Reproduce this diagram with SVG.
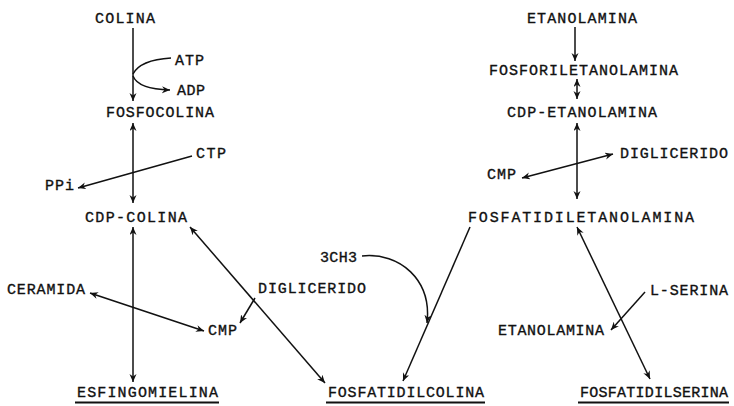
<svg xmlns="http://www.w3.org/2000/svg" width="734" height="406" viewBox="0 0 734 406">
<style>
text{font-family:"Liberation Mono","DejaVu Sans Mono",monospace;font-size:15px;fill:#111;stroke:#111;stroke-width:0.35;}
.c line,.c path{stroke:#111;stroke-width:1.5;fill:none;}
.u{stroke:#111;stroke-width:2;}
</style>
<defs>
<marker id="a" markerUnits="userSpaceOnUse" markerWidth="10" markerHeight="8" refX="8" refY="3.5" orient="auto-start-reverse">
<path d="M0,0 L8,3.5 L0,7 L2.5,3.5 z" fill="#111"/>
</marker>
</defs>
<g id="colina"><text x="95" y="23" textLength="60" lengthAdjust="spacing">COLINA</text></g>
<g id="atp"><text x="175" y="65" textLength="29" lengthAdjust="spacing">ATP</text></g>
<g id="adp"><text x="177" y="95" textLength="28" lengthAdjust="spacing">ADP</text></g>
<g id="fosfocolina"><text x="106" y="117" textLength="108" lengthAdjust="spacing">FOSFOCOLINA</text></g>
<g id="ctp"><text x="196" y="158" textLength="30" lengthAdjust="spacing">CTP</text></g>
<g id="ppi"><text x="45" y="190" textLength="29" lengthAdjust="spacing">PPi</text></g>
<g id="cdp-colina"><text x="85" y="222" textLength="102" lengthAdjust="spacing">CDP-COLINA</text></g>
<g id="ceramida"><text x="7" y="294" textLength="78" lengthAdjust="spacing">CERAMIDA</text></g>
<g id="diglicerido1"><text x="258" y="293" textLength="108" lengthAdjust="spacing">DIGLICERIDO</text></g>
<g id="cmp1"><text x="208" y="335" textLength="29" lengthAdjust="spacing">CMP</text></g>
<g id="ch3"><text x="320" y="262" textLength="37" lengthAdjust="spacing">3CH3</text></g>
<g id="esfingomielina"><text x="77" y="397" textLength="141" lengthAdjust="spacing">ESFINGOMIELINA</text><line class="u" x1="75" y1="402.5" x2="219" y2="402.5"/></g>
<g id="fosfatidilcolina"><text x="328" y="397" textLength="156" lengthAdjust="spacing">FOSFATIDILCOLINA</text><line class="u" x1="326" y1="402.5" x2="485" y2="402.5"/></g>
<g id="fosfatidilserina"><text x="580" y="397" textLength="148" lengthAdjust="spacing">FOSFATIDILSERINA</text><line class="u" x1="578" y1="402.5" x2="729" y2="402.5"/></g>
<g id="etanolamina1"><text x="527" y="23" textLength="110" lengthAdjust="spacing">ETANOLAMINA</text></g>
<g id="fosforiletanolamina"><text x="489" y="75" textLength="189" lengthAdjust="spacing">FOSFORILETANOLAMINA</text></g>
<g id="cdp-etanolamina"><text x="507" y="117" textLength="150" lengthAdjust="spacing">CDP-ETANOLAMINA</text></g>
<g id="diglicerido2"><text x="620" y="158" textLength="108" lengthAdjust="spacing">DIGLICERIDO</text></g>
<g id="cmp2"><text x="487" y="179" textLength="29" lengthAdjust="spacing">CMP</text></g>
<g id="fosfatidiletanolamina"><text x="468" y="222" textLength="226" lengthAdjust="spacing">FOSFATIDILETANOLAMINA</text></g>
<g id="l-serina"><text x="650" y="295" textLength="78" lengthAdjust="spacing">L-SERINA</text></g>
<g id="etanolamina2"><text x="498" y="335" textLength="106" lengthAdjust="spacing">ETANOLAMINA</text></g>
<g id="connectors" class="c">
<line x1="133" y1="28" x2="133" y2="101" marker-end="url(#a)"/>
<path d="M133,74 Q140,60 171,58"/>
<path d="M133,76 Q138,89 170,90" marker-end="url(#a)"/>
<line x1="133" y1="123" x2="133" y2="203" marker-start="url(#a)" marker-end="url(#a)"/>
<line x1="192" y1="156" x2="78" y2="188" marker-end="url(#a)"/>
<line x1="133" y1="227" x2="133" y2="382" marker-start="url(#a)" marker-end="url(#a)"/>
<line x1="90" y1="293" x2="204" y2="331" marker-start="url(#a)" marker-end="url(#a)"/>
<line x1="255" y1="298" x2="240" y2="323" marker-end="url(#a)"/>
<line x1="190" y1="227" x2="325" y2="383" marker-start="url(#a)" marker-end="url(#a)"/>
<path d="M362,256 C400,252 432,280 427,323" marker-end="url(#a)"/>
<line x1="470" y1="227" x2="403" y2="381" marker-end="url(#a)"/>
<line x1="575" y1="27" x2="575" y2="61" marker-end="url(#a)"/>
<line x1="577" y1="79" x2="577" y2="99" marker-start="url(#a)" marker-end="url(#a)"/>
<line x1="577" y1="123" x2="577" y2="199" marker-start="url(#a)" marker-end="url(#a)"/>
<line x1="613" y1="154" x2="522" y2="178" marker-start="url(#a)" marker-end="url(#a)"/>
<line x1="577" y1="227" x2="650" y2="379" marker-start="url(#a)" marker-end="url(#a)"/>
<line x1="645" y1="292" x2="611" y2="330" marker-end="url(#a)"/>
</g>
</svg>
